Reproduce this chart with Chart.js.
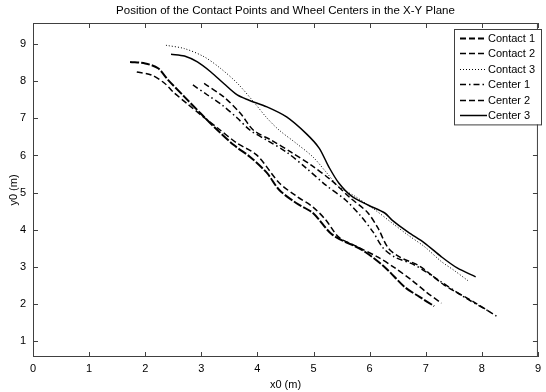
<!DOCTYPE html>
<html><head><meta charset="utf-8">
<script src="https://cdn.jsdelivr.net/npm/chart.js@4.4.1/dist/chart.umd.min.js"></script>
<style>html,body{margin:0;padding:0;background:#fff}canvas{display:block}</style>
</head><body>
<canvas id="c" width="546" height="392"></canvas>
<script>
const titleText = 'Position of the Contact Points and Wheel Centers in the X-Y Plane';
const xLabel = 'x0 (m)';
const yLabel = 'y0 (m)';
const xTicks = [0,1,2,3,4,5,6,7,8,9];
const yTicks = [1,2,3,4,5,6,7,8,9];
const seriesNames = ['Contact 1','Contact 2','Contact 3','Center 1','Center 2','Center 3'];

const contact1X = [1.73,2.00,2.23,2.41,2.70,2.99,3.29,3.58,3.87,4.17,4.39,4.69,4.99,5.34,5.87,6.27,6.63,6.89,7.15];
const contact1Y = [8.52,8.48,8.35,8.03,7.58,7.13,6.68,6.28,5.96,5.53,5.07,4.72,4.45,3.86,3.45,2.99,2.45,2.19,1.94];
const contact2X = [1.85,2.11,2.35,2.50,2.76,3.02,3.29,3.64,3.99,4.39,4.69,4.99,5.22,5.45,5.75,6.15,6.45,6.75,7.01,7.28];
const contact2Y = [8.25,8.17,7.94,7.71,7.38,7.06,6.74,6.33,6.01,5.26,4.91,4.61,4.26,3.80,3.56,3.26,2.97,2.64,2.32,2.02];
const contact3X = [2.37,2.70,3.05,3.34,3.64,3.93,4.17,4.39,4.69,4.99,5.22,5.45,5.75,6.10,6.40,6.68,6.98,7.28,7.50,7.75];
const contact3Y = [8.97,8.88,8.66,8.35,7.95,7.45,7.01,6.68,6.33,5.96,5.56,5.16,4.89,4.53,4.18,3.86,3.54,3.14,2.91,2.63];
const center1X = [2.85,3.11,3.37,3.64,3.87,4.17,4.52,4.87,5.22,5.57,5.83,6.06,6.24,6.45,6.80,7.28,7.68,8.15];
const center1Y = [7.90,7.63,7.36,7.01,6.68,6.41,6.09,5.66,5.20,4.80,4.39,3.94,3.51,3.26,3.05,2.59,2.19,1.78];
const center2X = [3.05,3.40,3.70,3.93,4.25,4.60,4.96,5.31,5.66,5.96,6.15,6.33,6.54,6.89,7.33,7.86,8.26];
const center2Y = [7.94,7.58,7.13,6.68,6.41,6.09,5.74,5.34,4.85,4.47,4.04,3.51,3.26,3.02,2.51,2.05,1.67];
const center3X = [2.46,2.70,2.93,3.17,3.40,3.64,3.85,4.17,4.52,4.87,5.10,5.27,5.45,5.69,5.98,6.27,6.40,6.68,6.98,7.28,7.56,7.89];
const center3Y = [8.73,8.68,8.52,8.25,7.94,7.63,7.49,7.31,7.04,6.59,6.20,5.70,5.26,4.89,4.66,4.45,4.26,3.94,3.64,3.27,2.97,2.73];

const xs = [contact1X, contact2X, contact3X, center1X, center2X, center3X];
const ys = [contact1Y, contact2Y, contact3Y, center1Y, center2Y, center3Y];
const styles = [
  {borderWidth:2,   borderDash:[9,2]},
  {borderWidth:1.5, borderDash:[6,3]},
  {borderWidth:1,   borderDash:[1,2]},
  {borderWidth:1.5, borderDash:[6,3,1.5,3]},
  {borderWidth:1.5, borderDash:[6,3]},
  {borderWidth:1.5, borderDash:[]}
];

const FONT = '"Liberation Sans", Arial, Helvetica, sans-serif';

const datasets = seriesNames.map((name, i) => Object.assign({
  label: name,
  data: xs[i].map((x, j) => ({x, y: ys[i][j]})),
  showLine: true,
  borderColor: '#000',
  backgroundColor: '#000',
  pointRadius: 0,
  fill: false,
  tension: 0.3
}, styles[i]));

const decor = {
  id: 'decor',
  afterDraw(chart) {
    const {ctx, chartArea: a, scales: {x, y}} = chart;
    ctx.save();
    ctx.strokeStyle = '#404040';
    ctx.lineWidth = 1;
    ctx.setLineDash([]);
    ctx.strokeRect(a.left + 0.5, a.top + 0.5, a.right - a.left - 1, a.bottom - a.top - 1);
    ctx.beginPath();
    x.ticks.forEach(t => {
      const px = Math.round(x.getPixelForValue(t.value)) + 0.5;
      ctx.moveTo(px, a.bottom); ctx.lineTo(px, a.bottom - 5);
      ctx.moveTo(px, a.top); ctx.lineTo(px, a.top + 5);
    });
    y.ticks.forEach(t => {
      const py = Math.round(y.getPixelForValue(t.value)) + 0.5;
      ctx.moveTo(a.left, py); ctx.lineTo(a.left + 5, py);
      ctx.moveTo(a.right, py); ctx.lineTo(a.right - 5, py);
    });
    ctx.stroke();

    // title
    ctx.fillStyle = '#000';
    ctx.font = '11.5px ' + FONT;
    ctx.textAlign = 'center';
    ctx.textBaseline = 'middle';
    ctx.fillText(titleText, (a.left + a.right) / 2, 11);

    // legend
    ctx.font = '11px ' + FONT;
    const lx = 454, ly = 29, lw = 87, rowH = 15.4;
    const lh = rowH * chart.data.datasets.length + 3;
    ctx.fillStyle = '#fff';
    ctx.fillRect(lx, ly, lw, lh);
    ctx.strokeStyle = '#404040';
    ctx.strokeRect(lx + 0.5, ly + 0.5, lw, lh);
    chart.data.datasets.forEach((ds, i) => {
      const cy = Math.round(ly + 9 + i * rowH) + 0.5;
      ctx.beginPath();
      ctx.strokeStyle = ds.borderColor;
      ctx.lineWidth = ds.borderWidth;
      ctx.setLineDash(i === 0 ? [6,3] : (ds.borderDash || []));
      ctx.moveTo(lx + 6, cy); ctx.lineTo(lx + 33, cy);
      ctx.stroke();
      ctx.setLineDash([]);
      ctx.fillStyle = '#000';
      ctx.textAlign = 'left';
      ctx.textBaseline = 'middle';
      ctx.fillText(ds.label, lx + 34, cy);
    });
    ctx.restore();
  }
};

new Chart(document.getElementById('c'), {
  type: 'scatter',
  data: { datasets },
  options: {
    responsive: false,
    animation: false,
    devicePixelRatio: 1,
    layout: { padding: { top: 23, right: 1, left: 0, bottom: 0 } },
    plugins: { legend: { display: false }, title: { display: false }, tooltip: { enabled: false } },
    scales: {
      x: {
        type: 'linear', min: 0, max: 9,
        afterBuildTicks: s => { s.ticks = xTicks.map(v => ({value: v})); },
        afterFit: s => { s.height = 35; },
        grid: { display: false, drawTicks: false },
        border: { display: false },
        ticks: { color: '#000', font: { family: FONT, size: 11 }, padding: 5, maxRotation: 0, autoSkip: false },
        title: { display: true, text: xLabel, color: '#000', font: { family: FONT, size: 11 }, padding: { top: 4, bottom: 0 } }
      },
      y: {
        type: 'linear', min: 0.57, max: 9.57,
        afterBuildTicks: s => { s.ticks = yTicks.map(v => ({value: v})); },
        afterFit: s => { s.width = 33; },
        grid: { display: false, drawTicks: false },
        border: { display: false },
        ticks: { color: '#000', font: { family: FONT, size: 11 }, padding: 7, autoSkip: false },
        title: { display: true, text: yLabel, color: '#000', font: { family: FONT, size: 11 }, padding: { top: 7, bottom: 0 } }
      }
    }
  },
  plugins: [decor]
});
</script>
</body></html>
